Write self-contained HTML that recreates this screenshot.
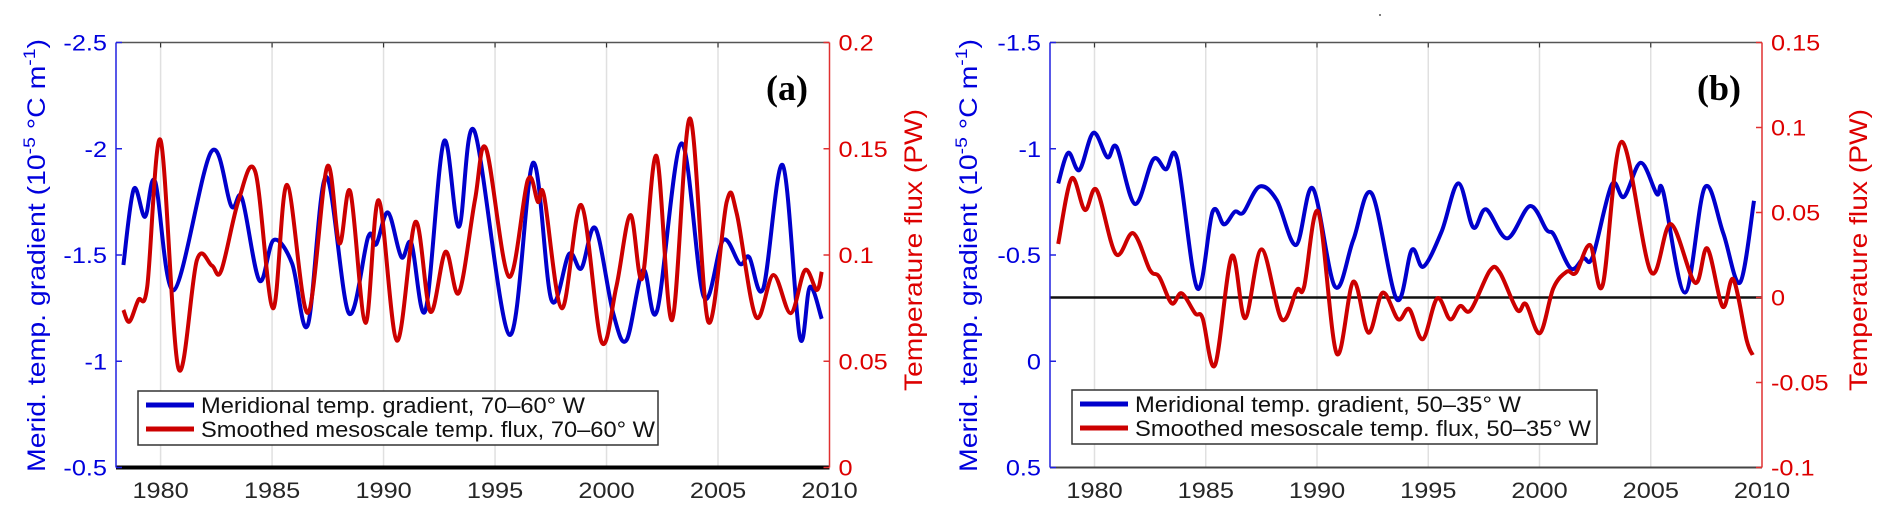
<!DOCTYPE html>
<html><head><meta charset="utf-8">
<style>
html,body{margin:0;padding:0;background:#fff;}
svg{display:block;font-family:"Liberation Sans",Arial,sans-serif;}
</style></head>
<body>
<svg id="fig" width="1887" height="519" viewBox="0 0 1887 519" xmlns="http://www.w3.org/2000/svg">
<circle cx="1380" cy="15" r="1" fill="#555"/>
</svg>
<script>
// ---------- Panel (a) data ----------
const aGradYears=[1978.33,1978.8,1979.3,1979.76,1980.6,1982.27,1983.17,1983.65,1984.43,1985.07,1985.9,1986.6,1987.42,1988.44,1989.31,1989.67,1990.2,1990.8,1991.25,1991.88,1992.7,1993.38,1994.07,1995.65,1996.7,1997.53,1998.32,1998.87,1999.5,2000.3,2000.9,2001.64,2002.27,2003.36,2004.36,2005.23,2005.98,2006.4,2007.03,2007.9,2008.67,2009.12,2009.65];
const aGrad=[-1.453,-1.81,-1.68,-1.845,-1.335,-1.986,-1.73,-1.767,-1.38,-1.57,-1.46,-1.17,-1.868,-1.226,-1.586,-1.55,-1.70,-1.49,-1.555,-1.24,-2.033,-1.633,-2.085,-1.124,-1.934,-1.288,-1.505,-1.437,-1.626,-1.226,-1.10,-1.43,-1.238,-2.025,-1.304,-1.57,-1.458,-1.49,-1.343,-1.923,-1.113,-1.35,-1.20];
const aFluxYears=[1978.33,1978.6,1979.0,1979.4,1980.0,1980.8,1981.63,1982.3,1982.72,1983.5,1984.25,1985.04,1985.67,1986.6,1987.47,1988.02,1988.51,1989.19,1989.78,1990.6,1991.43,1992.1,1992.78,1993.38,1994.1,1994.6,1995.62,1996.47,1996.92,1997.2,1998.0,1998.87,1999.77,2000.44,2001.07,2001.6,2002.24,2002.94,2003.74,2004.56,2005.39,2005.84,2006.7,2007.48,2008.26,2008.9,2009.43,2009.65];
const aFlux=[0.0741,0.0686,0.0788,0.085,0.154,0.0467,0.0976,0.095,0.0926,0.1258,0.139,0.0749,0.133,0.0728,0.1415,0.1055,0.1298,0.0681,0.1258,0.0597,0.1156,0.0733,0.1015,0.0822,0.126,0.150,0.0898,0.1353,0.125,0.1277,0.0749,0.1235,0.0592,0.085,0.1188,0.089,0.1466,0.0694,0.1643,0.0686,0.125,0.1196,0.0709,0.0906,0.0726,0.0929,0.0835,0.0921];
const aLeftTicks=[-2.5,-2,-1.5,-1,-0.5];
const aLeftTickLabels=["-2.5","-2","-1.5","-1","-0.5"];
const aRightTicks=[0.2,0.15,0.1,0.05,0];
const aRightTickLabels=["0.2","0.15","0.1","0.05","0"];
// ---------- Panel (b) data ----------
const bGradYears=[1978.37,1978.82,1979.32,1979.95,1980.58,1981.0,1981.82,1982.64,1983.21,1983.72,1984.62,1985.31,1985.82,1986.31,1986.69,1987.41,1988.19,1989.06,1989.81,1990.81,1991.63,1992.46,1993.58,1994.26,1994.78,1995.6,1996.35,1997.02,1997.6,1998.55,1999.57,2000.32,2000.65,2001.4,2001.97,2002.39,2003.24,2003.8,2004.55,2005.27,2005.56,2006.54,2007.43,2008.26,2009.01,2009.64];
const bGrad=[-0.837,-0.981,-0.90,-1.075,-0.96,-1.007,-0.74,-0.95,-0.903,-0.95,-0.343,-0.704,-0.644,-0.704,-0.70,-0.822,-0.759,-0.547,-0.814,-0.351,-0.571,-0.79,-0.292,-0.524,-0.445,-0.61,-0.837,-0.63,-0.715,-0.578,-0.73,-0.618,-0.594,-0.437,-0.484,-0.492,-0.83,-0.774,-0.934,-0.787,-0.798,-0.323,-0.818,-0.602,-0.37,-0.755];
const bFluxYears=[1978.37,1978.97,1979.57,1980.1,1980.96,1981.74,1982.49,1982.91,1983.47,1983.92,1984.52,1984.86,1985.42,1986.17,1986.77,1987.51,1988.41,1989.09,1989.42,1990.06,1990.88,1991.63,1992.31,1992.95,1993.65,1994.15,1994.75,1995.4,1995.98,1996.43,1996.91,1997.77,1998.22,1999.0,1999.39,2000.02,2000.62,2001.22,2001.64,2002.27,2002.84,2003.69,2005.0,2005.9,2006.99,2007.54,2008.23,2008.71,2009.31,2009.58];
const bFlux=[0.0315,0.070,0.0515,0.0632,0.0256,0.0378,0.0162,0.0122,-0.0034,0.0025,-0.0093,-0.0122,-0.0397,0.0244,-0.0122,0.0283,-0.0128,0.0044,0.0063,0.0504,-0.0328,0.0093,-0.0207,0.0028,-0.0128,-0.0069,-0.0246,-0.0005,-0.0128,-0.005,-0.0074,0.0158,0.0146,-0.0074,-0.0038,-0.021,0.0054,0.0152,0.0146,0.0309,0.0073,0.0916,0.0152,0.0432,0.0087,0.0289,-0.0054,0.0107,-0.025,-0.0338];
const bLeftTicks=[-1.5,-1,-0.5,0,0.5];
const bLeftTickLabels=["-1.5","-1","-0.5","0","0.5"];
const bRightTicks=[0.15,0.1,0.05,0,-0.05,-0.1];
const bRightTickLabels=["0.15","0.1","0.05","0","-0.05","-0.1"];
const xTicks=[1980,1985,1990,1995,2000,2005,2010];
const xTickLabels=["1980","1985","1990","1995","2000","2005","2010"];

const NS="http://www.w3.org/2000/svg";
const svg=document.getElementById('fig');
function mk(tag,attrs,parent){const e=document.createElementNS(NS,tag);for(const k in attrs)e.setAttribute(k,attrs[k]);(parent||svg).appendChild(e);return e;}
function txt(parent,x,y,s,size,fill,anchor,sx){const t=mk('text',{transform:`translate(${x},${y}) scale(${sx||1.15},1)`,'font-size':size,fill:fill,'text-anchor':anchor||'start'},parent);t.textContent=s;return t;}
function smooth(pts){let d=`M${pts[0][0].toFixed(1)},${pts[0][1].toFixed(1)}`;
  for(let i=0;i<pts.length-1;i++){const p0=pts[Math.max(0,i-1)],p1=pts[i],p2=pts[i+1],p3=pts[Math.min(pts.length-1,i+2)];
    const c1=[p1[0]+(p2[0]-p0[0])/6,p1[1]+(p2[1]-p0[1])/6],c2=[p2[0]-(p3[0]-p1[0])/6,p2[1]-(p3[1]-p1[1])/6];
    d+=`C${c1[0].toFixed(1)},${c1[1].toFixed(1)} ${c2[0].toFixed(1)},${c2[1].toFixed(1)} ${p2[0].toFixed(1)},${p2[1].toFixed(1)}`;}
  return d;}

function panel(cfg){
  const g=mk('g',{});
  
  
  const top=42.5,bot=467.5;
  const X=yr=>cfg.x0+(yr-1978)*(cfg.x1-cfg.x0)/32;
  const YL=v=>top+(v-cfg.lmin)/(cfg.lmax-cfg.lmin)*(bot-top);
  const YR=v=>top+(cfg.rmax-v)/(cfg.rmax-cfg.rmin)*(bot-top);
  // grid
  xTicks.slice(0,6).forEach(t=>{const l=mk('line',{x1:X(t),x2:X(t),y1:top,y2:bot,stroke:'#e0e0e0','stroke-width':1.5},g);
    
    mk('line',{x1:X(t),x2:X(t),y1:top,y2:top+5,stroke:'#333','stroke-width':1.2},g);});
  // top border
  const tb=mk('line',{x1:cfg.x0,x2:cfg.x1,y1:top,y2:top,stroke:'#555','stroke-width':1.5},g);
  
  // bottom axis
  const ba=mk('line',{x1:cfg.x0,x2:cfg.x1,y1:bot,y2:bot,stroke:cfg.botColor,'stroke-width':cfg.botW},g);
  
  // zero line
  if(cfg.zeroLine){const z=mk('line',{x1:cfg.x0,x2:cfg.x1,y1:YR(0),y2:YR(0),stroke:'#111','stroke-width':2.5},g);
    }
  // left axis
  const la=mk('line',{x1:cfg.x0,x2:cfg.x0,y1:top,y2:bot,stroke:'#2020e0','stroke-width':1.5},g);
  
  cfg.lt.forEach((t,i)=>{mk('line',{x1:cfg.x0,x2:cfg.x0+6,y1:YL(t),y2:YL(t),stroke:'#2020e0','stroke-width':1.5},g);
    const e=txt(g,cfg.x0-9,YL(t)+8,cfg.ltl[i],22,'#0000dd','end');
    });
  // right axis
  const ra=mk('line',{x1:cfg.x1,x2:cfg.x1,y1:top,y2:bot,stroke:'#e03030','stroke-width':1.5},g);
  
  cfg.rt.forEach((t,i)=>{mk('line',{x1:cfg.x1-6,x2:cfg.x1,y1:YR(t),y2:YR(t),stroke:'#e03030','stroke-width':1.5},g);
    const e=txt(g,cfg.x1+9,YR(t)+8,cfg.rtl[i],22,'#dd0000','start');
    });
  // x tick labels
  xTicks.forEach((t,i)=>{const e=txt(g,X(t),498,xTickLabels[i],22,'#262626','middle');
    });
  // series
  const gp=cfg.gy.map((y,i)=>[X(y),YL(cfg.gv[i])]);
  const fp=cfg.fy.map((y,i)=>[X(y),YR(cfg.fv[i])]);
  const bl=mk('path',{d:smooth(gp),fill:'none',stroke:'#0000cc','stroke-width':4,'stroke-linejoin':'round'},g);
  
  const rl=mk('path',{d:smooth(fp),fill:'none',stroke:'#cc0000','stroke-width':4,'stroke-linejoin':'round'},g);
  
  // axis titles
  const lt=mk('text',{transform:`translate(${cfg.ltx},255.5) rotate(-90)`,'font-size':25,fill:'#0000dd','text-anchor':'middle',textLength:433,lengthAdjust:'spacingAndGlyphs'},g);
  
  lt.innerHTML='Merid. temp. gradient (10<tspan dy="-10" font-size="17">-5</tspan><tspan dy="10"> °C m</tspan><tspan dy="-10" font-size="17">-1</tspan><tspan dy="10">)</tspan>';
  const rtt=mk('text',{transform:`translate(${cfg.rtx},250) rotate(-90)`,'font-size':25,fill:'#dd0000','text-anchor':'middle',textLength:282,lengthAdjust:'spacingAndGlyphs'},g);
  
  rtt.textContent='Temperature flux (PW)';
  // panel label
  const pl=mk('text',{x:cfg.labx,y:100,'font-size':36,'font-weight':'bold','font-family':'"Liberation Serif",serif',fill:'#000'},g);
  
  pl.textContent=cfg.label;
  // legend
  const lg=mk('g',{},g);
  
  mk('rect',{x:cfg.lgx,y:cfg.lgy,width:cfg.lgw,height:54,fill:'#fff',stroke:'#333','stroke-width':1.5},lg);
  [[cfg.l1,'#0000cc',cfg.l1w,14],[cfg.l2,'#cc0000',cfg.l2w,38]].forEach(([s,c,w,dy])=>{
    const ent=mk('g',{},lg);
    
    mk('line',{x1:cfg.lgx+8,x2:cfg.lgx+56,y1:cfg.lgy+dy,y2:cfg.lgy+dy,stroke:c,'stroke-width':5},ent);
    const t=mk('text',{x:cfg.lgx+63,y:cfg.lgy+dy+8,'font-size':22,fill:'#111',textLength:w,lengthAdjust:'spacingAndGlyphs'},ent);
    t.textContent=s;});
}
panel({name:'panel-a',x0:116,x1:829.5,lmin:-2.5,lmax:-0.5,rmin:0,rmax:0.2,lt:aLeftTicks,ltl:aLeftTickLabels,rt:aRightTicks,rtl:aRightTickLabels,
  gy:aGradYears,gv:aGrad,fy:aFluxYears,fv:aFlux,botColor:'#000',botW:4,zeroLine:false,ltx:45,rtx:922,labx:766,label:'(a)',
  lgx:138,lgy:391,lgw:520,l1:'Meridional temp. gradient, 70\u201360\u00b0 W',l1w:384,l2:'Smoothed mesoscale temp. flux, 70\u201360\u00b0 W',l2w:454});
panel({name:'panel-b',x0:1050,x1:1762,lmin:-1.5,lmax:0.5,rmin:-0.1,rmax:0.15,lt:bLeftTicks,ltl:bLeftTickLabels,rt:bRightTicks,rtl:bRightTickLabels,
  gy:bGradYears,gv:bGrad,fy:bFluxYears,fv:bFlux,botColor:'#444',botW:2,zeroLine:true,ltx:977,rtx:1867,labx:1697,label:'(b)',
  lgx:1072,lgy:390,lgw:525,l1:'Meridional temp. gradient, 50\u201335\u00b0 W',l1w:386,l2:'Smoothed mesoscale temp. flux, 50\u201335\u00b0 W',l2w:456});
</script>
</body></html>
